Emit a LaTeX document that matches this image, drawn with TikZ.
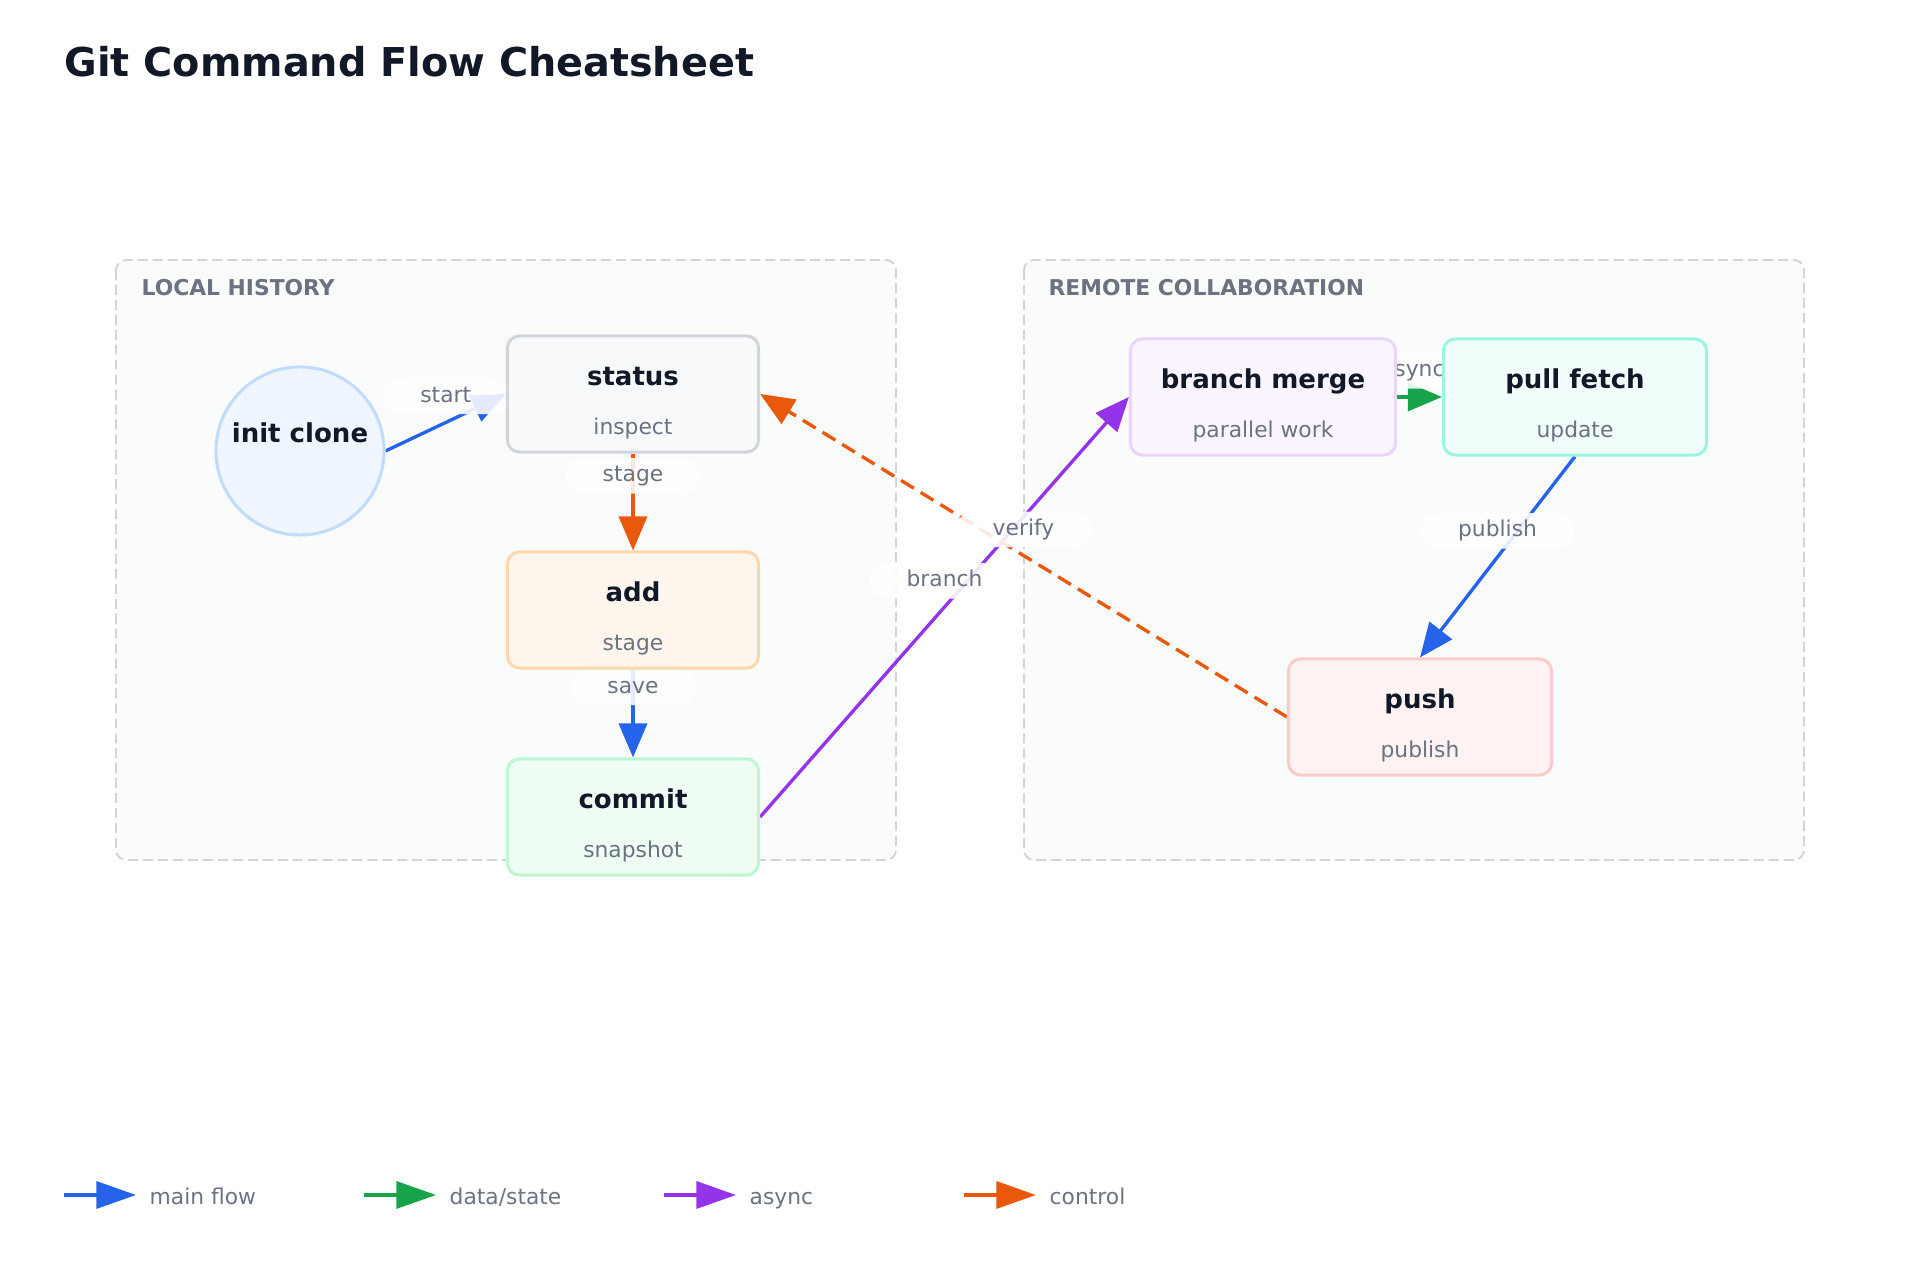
\documentclass[tikz,border=0pt]{standalone}
\usepackage{fontspec}
\setmainfont{DejaVu Sans}
\usetikzlibrary{arrows.meta}
\definecolor{ink}{HTML}{111827}
\definecolor{muted}{HTML}{6B7280}
\definecolor{flowblue}{HTML}{2563EB}
\definecolor{datagreen}{HTML}{16A34A}
\definecolor{asyncpurple}{HTML}{9333EA}
\definecolor{ctrlorange}{HTML}{EA580C}
\definecolor{grpfill}{HTML}{FAFBFB}
\definecolor{grpline}{HTML}{D1D5DB}
\definecolor{initln}{HTML}{BFDBFE}
\definecolor{initfl}{HTML}{EFF6FF}
\definecolor{statusln}{HTML}{D1D5DB}
\definecolor{statusfl}{HTML}{F8F9FB}
\definecolor{addln}{HTML}{FED7AA}
\definecolor{addfl}{HTML}{FFF7ED}
\definecolor{commitln}{HTML}{BBF7D0}
\definecolor{commitfl}{HTML}{F0FDF4}
\definecolor{branchln}{HTML}{E9D5FF}
\definecolor{branchfl}{HTML}{FAF5FF}
\definecolor{pullln}{HTML}{99F6E4}
\definecolor{pullfl}{HTML}{F0FDFA}
\definecolor{pushln}{HTML}{FECACA}
\definecolor{pushfl}{HTML}{FEF2F2}
\pgfdeclarelayer{background}
\pgfsetlayers{background,main}

\begin{document}
\begin{tikzpicture}[x=0.01cm,y=-0.01cm,font=\fontsize{6.2}{7.5}\selectfont,
  box/.style={draw, line width=0.85pt, rounded corners=0.12cm, minimum height=1.16cm, inner sep=0pt},
  initnode/.style={circle, draw=initln, fill=initfl, line width=0.85pt, minimum size=1.68cm, inner sep=0pt},
  ttl/.style={text=ink, inner sep=0pt, font=\fontsize{7.4}{9}\selectfont\bfseries},
  subt/.style={text=muted, inner sep=0pt},
  conn/.style={line width=0.95pt, -{Triangle[length=9.7pt,width=8pt]}},
  legconn/.style={line width=0.95pt, -{Triangle[length=11.3pt,width=7.7pt]}},
  pill/.style={fill=white, fill opacity=0.88, text opacity=1, text=muted, rounded corners=0.18cm, inner xsep=0.37cm, inner ysep=0.07cm, text height=0.165cm, text depth=0.05cm},
  grp/.style={draw=grpline, fill=grpfill, dash pattern=on 2.85pt off 1.4pt, line width=0.55pt, rounded corners=0.1cm},
  grplabel/.style={anchor=west, inner sep=0pt, text=muted, font=\fontsize{6.2}{7.5}\selectfont\bfseries}]
  \useasboundingbox (0,0) rectangle (1920,1280);
  \node[anchor=base west, inner sep=0pt, text=ink, font=\fontsize{11.3}{13}\selectfont\bfseries] (title) at (64,77) {Git Command Flow Cheatsheet};
  \node[initnode] (init) at (300,451) {};
  \node[ttl, anchor=base] (init-t) at ([yshift=0.08cm]init.center) {init clone};
  \foreach \nm/\px/\py/\bw/\lc/\fc/\ttl/\sbt in {status/633/394/2.51/statusln/statusfl/status/inspect, add/633/610/2.51/addln/addfl/add/stage, commit/633/817/2.51/commitln/commitfl/commit/snapshot, branch/1263/397/2.65/branchln/branchfl/branch merge/parallel work, pull/1575/397/2.63/pullln/pullfl/pull fetch/update, push/1420/717/2.63/pushln/pushfl/push/publish}{
    \node[box, draw=\lc, fill=\fc, minimum width=\bw cm] (\nm) at (\px,\py) {};
    \node[ttl, anchor=base] (\nm-t) at ([yshift=0.08cm]\nm.center) {\ttl};
    \node[subt, anchor=base] (\nm-s) at ([yshift=-0.40cm]\nm.center) {\sbt};
  }
  \begin{pgfonlayer}{background}
    \draw[grp] (116,260) rectangle (896,860);
    \draw[grp] (1024,260) rectangle (1804,860);
    \node[grplabel] (local) at (141,288) {LOCAL HISTORY};
    \node[grplabel] (remote) at (1048,288) {REMOTE COLLABORATION};
    \draw[conn, flowblue] (init.east) -- (status.west) node[pill, midway, yshift=0.26cm] (lstart) {start};
    \draw[conn, ctrlorange] (status.south) -- (add.north) node[pill, midway, yshift=0.26cm] (lstage) {stage};
    \draw[conn, flowblue] (add.south) -- (commit.north) node[pill, midway, yshift=0.26cm] (lsave) {save};
    \draw[conn, asyncpurple] (commit.east) -- (branch.west) node[pill, midway, yshift=0.26cm] (lbranch) {branch};
    \draw[conn, datagreen] (branch.east) -- (pull.west) node[pill, midway, yshift=0.26cm] (lsync) {sync};
    \draw[conn, flowblue] (pull.south) -- (push.north) node[pill, midway, yshift=0.26cm] (lpublish) {publish};
    \draw[conn, ctrlorange, dash pattern=on 4.25pt off 2.3pt] (push.west) -- (status.east) node[pill, midway, yshift=0.26cm] (lverify) {verify};
  \end{pgfonlayer}
  \foreach \i/\clr/\txt in {0/flowblue/main flow, 1/datagreen/{data/state}, 2/asyncpurple/async, 3/ctrlorange/control}{
    \coordinate (lga\i) at ({64+300*\i},1195);
    \coordinate (lgb\i) at ({136+300*\i},1195);
    \draw[legconn, \clr] (lga\i) -- (lgb\i);
    \node[anchor=base west, inner sep=0pt, text=muted] (lgt\i) at ({149+300*\i},1205) {\txt};
  }
\end{tikzpicture}
\end{document}
